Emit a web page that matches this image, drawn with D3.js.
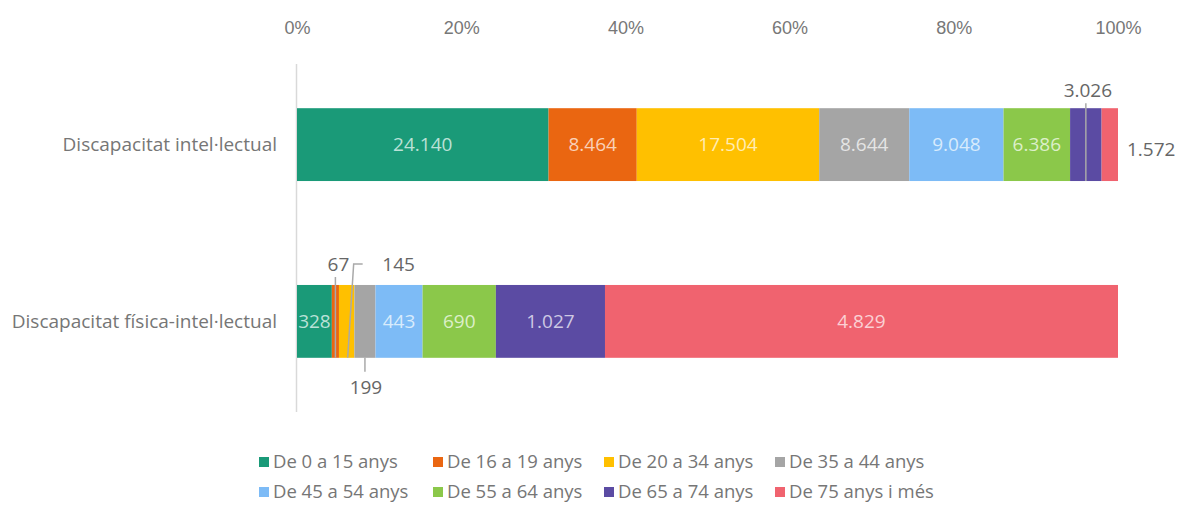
<!DOCTYPE html>
<html lang="ca">
<head>
<meta charset="utf-8">
<title>Discapacitat per edat</title>
<script src="https://d3js.org/d3.v7.min.js"></script>
<style>
  body { margin: 0; background: #fff; }
  svg { display: block; font-family: "Open Sans", sans-serif; font-feature-settings: "locl" 0, "liga" 0; font-variant-ligatures: none; }
  .tick text { font-size: 18px; fill: #777; }
</style>
</head>
<body>
<svg width="1177" height="512" lang="en"></svg>
<script>
// categories and series
const categories = ["Discapacitat intel·lectual", "Discapacitat física-intel·lectual"];
const ageGroups = ["De 0 a 15 anys", "De 16 a 19 anys", "De 20 a 34 anys", "De 35 a 44 anys",
                   "De 45 a 54 anys", "De 55 a 64 anys", "De 65 a 74 anys", "De 75 anys i més"];
const intelValues = [24140, 8464, 17504, 8644, 9048, 6386, 3026, 1572];
const fisIntelValues = [328, 67, 145, 199, 443, 690, 1027, 4829];
const colors = ["#1a9a78", "#ea6611", "#ffc000", "#a5a5a5", "#7dbbf6", "#8bc84a", "#5b4ba3", "#f0636f"];
const pctTicks = [0, 0.2, 0.4, 0.6, 0.8, 1];

const width = 1177, height = 512;
const svg = d3.select("svg");
const fs = 19;

const locale = d3.formatLocale({ decimal: ",", thousands: ".", grouping: [3], currency: ["", "€"] });
const fmt = locale.format(",d");

// build stacked data
const rows = [intelValues, fisIntelValues].map((vals, i) => {
    const total = d3.sum(vals);
    let acc = 0;
    return vals.map((v, j) => {
        const seg = { cat: categories[i], ci: i, si: j, value: v, x0: acc / total, x1: (acc + v) / total };
        acc += v;
        return seg;
    });
});
const segments = rows.flat();

const x = d3.scaleLinear().domain([0, 1]).range([297, 1118]);
const y = d3.scaleBand().domain(categories).range([64, 402]).paddingInner(0.588).paddingOuter(0.25);

// axis line
svg.append("line")
    .attr("x1", x(0) - 0.5).attr("x2", x(0) - 0.5)
    .attr("y1", 64).attr("y2", 412)
    .attr("stroke", "#d9d9d9").attr("stroke-width", 1.5);

// top axis
const gx = svg.append("g")
    .attr("transform", "translate(0,34)")
    .call(d3.axisTop(x).tickValues(pctTicks).tickFormat(d3.format(".0%")).tickSize(0));
gx.select(".domain").remove();
gx.selectAll("text").attr("dy", 0).attr("y", 0);

// category labels
svg.selectAll(".cat")
    .data(categories)
    .join("text")
    .attr("class", "cat")
    .attr("x", 277)
    .attr("y", d => y(d) + y.bandwidth() / 2)
    .attr("dy", "0.35em")
    .attr("text-anchor", "end")
    .attr("font-size", 19)
    .attr("fill", "#767676")
    .text(d => d);

// bars
svg.selectAll(".seg")
    .data(segments)
    .join("rect")
    .attr("class", "seg")
    .attr("x", d => x(d.x0))
    .attr("y", d => y(d.cat))
    .attr("width", d => x(d.x1) - x(d.x0))
    .attr("height", y.bandwidth())
    .attr("fill", d => colors[d.si]);

// labels outside the bar: offsets relative to segment centre / bar edges
const outside = {
    "0-6": { dx: 2, ty: -18, anchor: "middle", leader: "vert-top" },
    "0-7": { anchor: "start" },
    "1-1": { dx: 3, ty: -21, anchor: "middle", leader: "vert-top" },
    "1-2": { dx: 52, ty: -21, anchor: "middle", leader: "elbow" },
    "1-3": { dx: 1, ty: 30, anchor: "middle", leader: "vert-bottom" }
};

const inside = segments.filter(d => !outside[d.ci + "-" + d.si]);
svg.selectAll(".inlab")
    .data(inside)
    .join("text")
    .attr("class", "inlab")
    .attr("x", d => (x(d.x0) + x(d.x1)) / 2)
    .attr("y", d => y(d.cat) + y.bandwidth() / 2)
    .attr("dy", "0.35em")
    .attr("text-anchor", "middle")
    .attr("font-size", fs)
    .attr("fill", d => d3.interpolateRgb(colors[d.si], "#ffffff")(0.7))
    .text(d => fmt(d.value));

const outs = segments.filter(d => outside[d.ci + "-" + d.si]);
outs.forEach(d => {
    const o = outside[d.ci + "-" + d.si];
    const cx = (x(d.x0) + x(d.x1)) / 2;
    const top = y(d.cat), bot = y(d.cat) + y.bandwidth(), mid = top + y.bandwidth() / 2;
    let tx, ty;
    if (o.anchor === "start") { tx = x(d.x1) + 9; ty = mid + 5; }
    else { tx = cx + o.dx; ty = o.ty < 0 ? top + o.ty : bot + o.ty; }
    svg.append("text")
        .attr("x", tx)
        .attr("y", ty)
        .attr("dy", "0.35em")
        .attr("text-anchor", o.anchor)
        .attr("font-size", fs)
        .attr("fill", "#666")
        .text(fmt(d.value));

    let path = null;
    if (o.leader === "vert-top") path = `M${cx},${ty + 13}V${bot}`;
    if (o.leader === "vert-bottom") path = `M${cx},${bot}V${ty - 16}`;
    if (o.leader === "elbow") path = `M${tx - 36},${ty}H${cx + 7}L${cx + 1},${bot}`;
    if (path) {
        svg.append("path")
            .attr("d", path)
            .attr("fill", "none")
            .attr("stroke", "#a9a9a9")
            .attr("stroke-width", 1.5);
    }
});

// legend
const legX = [259, 433, 604, 775];
const legY = [462, 492];
const leg = svg.selectAll(".leg")
    .data(ageGroups)
    .join("g")
    .attr("class", "leg")
    .attr("transform", (d, i) => `translate(${legX[i % 4]},${legY[Math.floor(i / 4)]})`);
leg.append("rect")
    .attr("x", 0).attr("y", -5)
    .attr("width", 10).attr("height", 10)
    .attr("fill", (d, i) => colors[i]);
leg.append("text")
    .attr("x", 14)
    .attr("dy", "0.35em")
    .attr("font-size", 18.5)
    .attr("fill", "#767676")
    .text(d => d);
</script>
</body>
</html>
